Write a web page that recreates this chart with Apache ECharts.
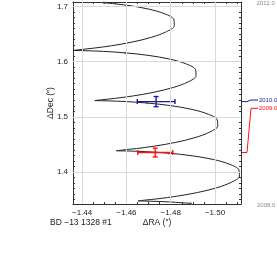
<!DOCTYPE html>
<html><head><meta charset="utf-8">
<script src="https://cdn.jsdelivr.net/npm/echarts@6/dist/echarts.min.js"></script>
<style>html,body{margin:0;padding:0;background:#fff}#c{width:277px;height:269px}</style>
</head><body><div id="c"></div>
<script>
// model track 2008.0 -> 2012.0 (RA offset, Dec offset in arcsec)
const curveRA = [
-1.48896,-1.47902,-1.47111,-1.46632,-1.46526,-1.46532,-1.46816,-1.47429,-1.48271,-1.49203,-1.50074,-1.50743,-1.51099,-1.51077,-1.50670,-1.49935,-1.48971,
-1.47917,-1.46923,-1.46132,-1.45653,-1.45547,-1.45553,-1.45837,-1.46450,-1.47292,-1.48224,-1.49095,-1.49764,-1.50120,-1.50098,-1.49691,-1.48956,-1.47992,
-1.46938,-1.45944,-1.45153,-1.44674,-1.44568,-1.44574,-1.44858,-1.45471,-1.46313,-1.47245,-1.48116,-1.48785,-1.49141,-1.49119,-1.48712,-1.47977,-1.47013,
-1.45958,-1.44964,-1.44173,-1.43694,-1.43588,-1.43594,-1.43878,-1.44491,-1.45333,-1.46265,-1.47136,-1.47805,-1.48161,-1.48139,-1.47732,-1.46997,-1.46033,
-1.44979];
const curveDec = [
1.34313,1.34585,1.34706,1.34744,1.34760,1.34779,1.34893,1.35154,1.35609,1.36276,1.37140,1.38155,1.39253,1.40354,1.41377,1.42252,1.42934,
1.43403,1.43675,1.43796,1.43834,1.43850,1.43869,1.43983,1.44244,1.44699,1.45366,1.46230,1.47245,1.48343,1.49444,1.50467,1.51342,1.52024,
1.52492,1.52764,1.52885,1.52923,1.52939,1.52958,1.53072,1.53333,1.53788,1.54455,1.55319,1.56334,1.57432,1.58533,1.59556,1.60431,1.61113,
1.61582,1.61854,1.61975,1.62013,1.62029,1.62048,1.62162,1.62423,1.62878,1.63545,1.64409,1.65424,1.66522,1.67623,1.68646,1.69521,1.70203,
1.70671];
// model positions at whole epochs 2008.0 ... 2012.0
const epochRA  = [-1.48896,-1.47917,-1.46938,-1.45958,-1.44979];
const epochDec = [1.34313,1.43403,1.52492,1.61582,1.70671];
// observations
const obsLabels = ['2009.0','2010.0'];
const obsRA     = [-1.4730,-1.4734];
const obsDec    = [1.4352,1.5275];
const obsErrRA  = [0.0079,0.0085];
const obsErrDec = [0.0080,0.0092];
const obsColors = ['#ff1010','#1a1a9a'];
// time range of the track
const timeLabels = ['2008.0','2012.0'];
// axes
const RA_MIN = -1.5117, RA_MAX = -1.4359;
const DEC_MIN = 1.342, DEC_MAX = 1.708;
const xMajor = [-1.50,-1.48,-1.46,-1.44];
const xMinor = [-1.510,-1.505,-1.500,-1.495,-1.490,-1.485,-1.480,-1.475,-1.470,-1.465,-1.460,-1.455,-1.450,-1.445,-1.440];
const yMajor = [1.4,1.5,1.6,1.7];
const yMinor = [1.35,1.36,1.37,1.38,1.39,1.40,1.41,1.42,1.43,1.44,1.45,1.46,1.47,1.48,1.49,1.50,1.51,1.52,1.53,1.54,1.55,1.56,1.57,1.58,1.59,1.60,1.61,1.62,1.63,1.64,1.65,1.66,1.67,1.68,1.69,1.70];
const sourceName = 'BD −13 1328 #1';

const FONT = '"Liberation Sans", Arial, Helvetica, sans-serif';
const FRAME = '#333';
const chart = echarts.init(document.getElementById('c'), null, {renderer:'canvas'});

function ax(base, extra){
  const o = Object.assign({type:'value', splitLine:{show:false}, axisLabel:{show:false},
    axisLine:{show:false}, axisTick:{show:false}}, base);
  return Object.assign(o, extra);
}
const xb = {min:RA_MIN, max:RA_MAX, inverse:true};
const yb = {min:DEC_MIN, max:DEC_MAX};
const lineOn = {show:true, onZero:false, lineStyle:{color:FRAME, width:1}};
const tick = (vals, len) => ({show:true, inside:true, length:len, customValues:vals, lineStyle:{color:FRAME, width:1}});
const fmtX = v => (v < 0 ? '−' : '') + Math.abs(v).toFixed(2);

const curve = curveRA.map((r,i)=>[r, curveDec[i]]);
const epochs = epochRA.map((r,i)=>[r, epochDec[i]]);
const obs = obsRA.map((r,i)=>[r, obsDec[i], obsErrRA[i], obsErrDec[i]]);

chart.setOption({
  animation:false,
  grid:{left:73, right:36, top:2, bottom:65},
  xAxis:[
    ax(xb,{position:'bottom', axisLine:lineOn, axisTick:tick(xMajor,4),
      axisLabel:{show:true, customValues:xMajor, formatter:fmtX, margin:5, fontSize:8, color:'#222', fontFamily:FONT},
      name:'ΔRA (″)', nameLocation:'middle', nameGap:14, nameMoveOverlap:false,
      nameTextStyle:{fontSize:8.5, color:'#222', fontFamily:FONT}}),
    ax(xb,{position:'bottom', axisTick:tick(xMinor,2)}),
    ax(xb,{position:'top', axisLine:lineOn, axisTick:tick(xMajor,4)}),
    ax(xb,{position:'top', axisTick:tick(xMinor,2)})
  ],
  yAxis:[
    ax(yb,{position:'left', axisLine:lineOn, axisTick:tick(yMajor,4),
      axisLabel:{show:true, customValues:yMajor, formatter:v=>v.toFixed(1), margin:5, fontSize:8, color:'#222', fontFamily:FONT},
      name:'ΔDec (″)', nameLocation:'middle', nameGap:18, nameMoveOverlap:false,
      nameTextStyle:{fontSize:8.5, color:'#222', fontFamily:FONT}}),
    ax(yb,{position:'left', axisTick:tick(yMinor,2)}),
    ax(yb,{position:'right', axisLine:lineOn, axisTick:tick(yMajor,4)}),
    ax(yb,{position:'right', axisTick:tick(yMinor,2)})
  ],
  series:[
    {type:'line', name:'grid', data:[[RA_MIN, DEC_MIN]], symbol:'none', lineStyle:{opacity:0}, z:1, silent:true,
     markLine:{silent:true, symbol:'none', label:{show:false}, animation:false,
       lineStyle:{color:'#d9d9d9', width:1, type:'solid'},
       data: xMajor.map(v=>({xAxis:v})).concat(yMajor.map(v=>({yAxis:v})))}},
    {type:'line', name:'track', data:curve, symbol:'none', smooth:0.35, clip:true, z:2,
     lineStyle:{color:'#222', width:1}},
    {type:'scatter', name:'epochs', data:epochs, symbol:'circle', symbolSize:2.5, z:3,
     itemStyle:{color:'#555'}},
    {type:'custom', name:'obs', data:obs, z:4,
     renderItem:(params, api)=>{
       const ra=api.value(0), dec=api.value(1), er=api.value(2), ed=api.value(3);
       const l=api.coord([ra-er,dec]), r=api.coord([ra+er,dec]);
       const t=api.coord([ra,dec+ed]), b=api.coord([ra,dec-ed]);
       const cap=2.5, col=obsColors[params.dataIndex];
       const st={stroke:col, lineWidth:1.4};
       const seg=(x1,y1,x2,y2)=>({type:'line', shape:{x1,y1,x2,y2}, style:st});
       return {type:'group', children:[
         seg(l[0],l[1],r[0],r[1]), seg(t[0],t[1],b[0],b[1]),
         seg(l[0],l[1]-cap,l[0],l[1]+cap), seg(r[0],r[1]-cap,r[0],r[1]+cap),
         seg(t[0]-cap,t[1],t[0]+cap,t[1]), seg(b[0]-cap,b[1],b[0]+cap,b[1])
       ]};
     }}
  ]
});

// annotations on the right side, placed through the axes' scales
const gx = chart.convertToPixel({xAxisIndex:0}, RA_MIN);
const gTop = chart.convertToPixel({yAxisIndex:0}, DEC_MAX);
const gBot = chart.convertToPixel({yAxisIndex:0}, DEC_MIN);
const labelY = [108.3, 100.0];
const g = [
  {type:'text', left:gx+15.5, top:gTop-2, style:{text:timeLabels[1], fontSize:6, fill:'#8a8a8a', fontFamily:FONT}},
  {type:'text', left:gx+16, top:gBot-2, style:{text:timeLabels[0], fontSize:6, fill:'#8a8a8a', fontFamily:FONT}},
  {type:'text', left:50, top:218, style:{text:sourceName, fontSize:8.5, fill:'#222', fontFamily:FONT}}
];
obsDec.forEach((d,i)=>{
  const sy = chart.convertToPixel({yAxisIndex:0}, d);
  const ly = labelY[i];
  g.push({type:'polyline', shape:{points:[[gx,sy],[gx+6,sy],[gx+10,ly],[gx+17,ly]]},
    style:{stroke:obsColors[i], lineWidth:1, fill:null}});
  g.push({type:'text', x:gx+18, y:ly+0.5, style:{text:obsLabels[i], fontSize:6, fill:obsColors[i],
    fontFamily:FONT, verticalAlign:'middle', align:'left'}});
});
chart.setOption({graphic:g});
</script>
</body></html>
